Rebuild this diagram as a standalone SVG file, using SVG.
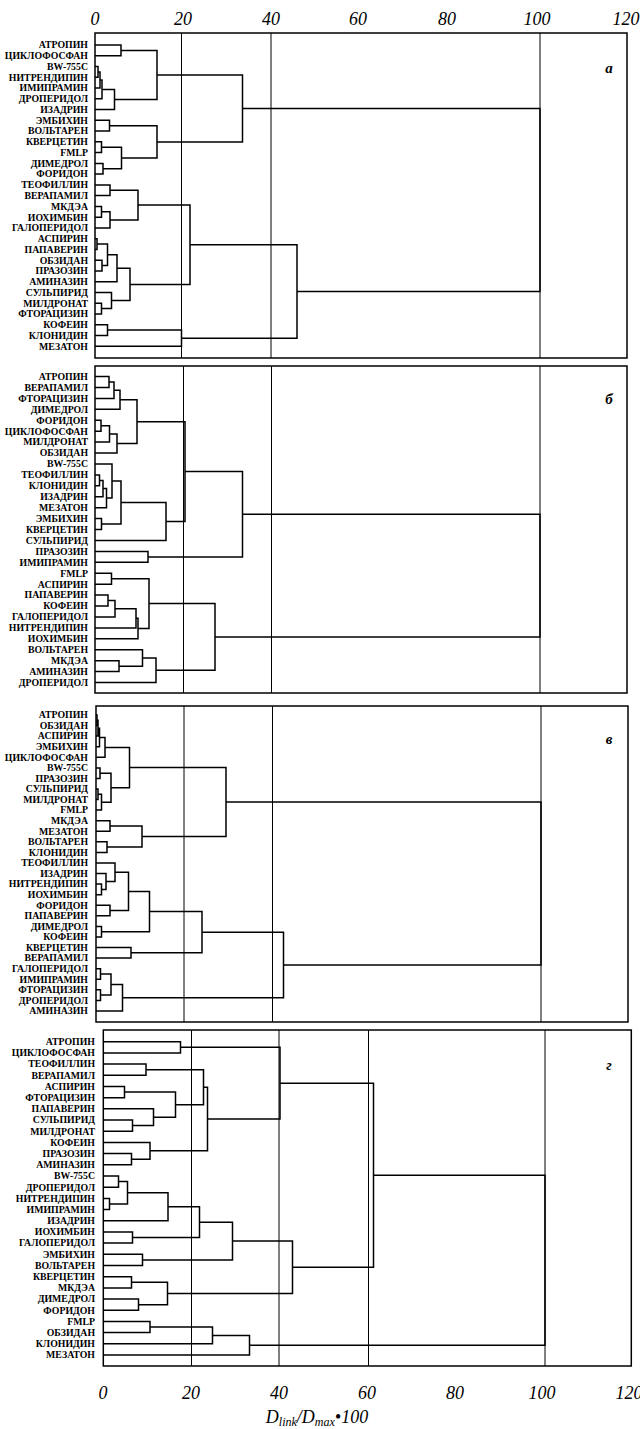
<svg xmlns="http://www.w3.org/2000/svg" width="640" height="1429" viewBox="0 0 640 1429">
<style>
.fr{fill:none;stroke:#000;stroke-width:1.5}
.gr{stroke:#000;stroke-width:1}
.d{fill:none;stroke:#000;stroke-width:1.5;stroke-linejoin:miter}
.lb{font-family:"Liberation Serif",serif;font-weight:bold;font-size:9.8px;text-anchor:end;fill:#000}
.ax{font-family:"Liberation Serif",serif;font-style:italic;font-size:18px;text-anchor:middle;fill:#000}
.pl{font-family:"Liberation Serif",serif;font-style:italic;font-weight:bold;font-size:15px;text-anchor:middle;fill:#000}
.tt{font-family:"Liberation Serif",serif;font-style:italic;font-size:18px;fill:#000}
</style>
<rect width="640" height="1429" fill="#fff"/>

<g id="axis-top">
<text class="ax" x="95" y="25">0</text>
<text class="ax" x="183" y="25">20</text>
<text class="ax" x="271" y="25">40</text>
<text class="ax" x="358" y="25">60</text>
<text class="ax" x="447" y="25">80</text>
<text class="ax" x="537" y="25">100</text>
<text class="ax" x="626" y="25">120</text>
</g>

<g id="axis-bottom">
<text class="ax" x="103" y="1399">0</text>
<text class="ax" x="191" y="1399">20</text>
<text class="ax" x="279" y="1399">40</text>
<text class="ax" x="367" y="1399">60</text>
<text class="ax" x="455" y="1399">80</text>
<text class="ax" x="542" y="1399">100</text>
<text class="ax" x="629" y="1399">120</text>
<text class="tt" x="317" y="1423" text-anchor="middle">D<tspan font-size="12" dy="3">link</tspan><tspan dy="-3">/D</tspan><tspan font-size="12" dy="3">max</tspan><tspan dy="-3">•100</tspan></text>
</g>

<!-- Panel а -->
<g id="panel-a">
<rect class="fr" x="95" y="33" width="532" height="325"/>
<line class="gr" x1="181.5" y1="33" x2="181.5" y2="358"/>
<line class="gr" x1="271" y1="33" x2="271" y2="358"/>
<line class="gr" x1="540" y1="33" x2="540" y2="358"/>
<text class="pl" x="609" y="73">а</text>
<g id="a-leaves">
<text class="lb" x="88" y="48.3">АТРОПИН</text>
<text class="lb" x="88" y="59.1">ЦИКЛОФОСФАН</text>
<text class="lb" x="88" y="69.8">BW-755C</text>
<text class="lb" x="88" y="80.6">НИТРЕНДИПИН</text>
<text class="lb" x="88" y="91.3">ИМИПРАМИН</text>
<text class="lb" x="88" y="102.1">ДРОПЕРИДОЛ</text>
<text class="lb" x="88" y="112.9">ИЗАДРИН</text>
<text class="lb" x="88" y="123.6">ЭМБИХИН</text>
<text class="lb" x="88" y="134.4">ВОЛЬТАРЕН</text>
<text class="lb" x="88" y="145.1">КВЕРЦЕТИН</text>
<text class="lb" x="88" y="155.9">FMLP</text>
<text class="lb" x="88" y="166.7">ДИМЕДРОЛ</text>
<text class="lb" x="88" y="177.4">ФОРИДОН</text>
<text class="lb" x="88" y="188.2">ТЕОФИЛЛИН</text>
<text class="lb" x="88" y="198.9">ВЕРАПАМИЛ</text>
<text class="lb" x="88" y="209.7">МКДЭА</text>
<text class="lb" x="88" y="220.5">ИОХИМБИН</text>
<text class="lb" x="88" y="231.2">ГАЛОПЕРИДОЛ</text>
<text class="lb" x="88" y="242">АСПИРИН</text>
<text class="lb" x="88" y="252.7">ПАПАВЕРИН</text>
<text class="lb" x="88" y="263.5">ОБЗИДАН</text>
<text class="lb" x="88" y="274.3">ПРАЗОЗИН</text>
<text class="lb" x="88" y="285">АМИНАЗИН</text>
<text class="lb" x="88" y="295.8">СУЛЬПИРИД</text>
<text class="lb" x="88" y="306.5">МИЛДРОНАТ</text>
<text class="lb" x="88" y="317.3">ФТОРАЦИЗИН</text>
<text class="lb" x="88" y="328.1">КОФЕИН</text>
<text class="lb" x="88" y="338.8">КЛОНИДИН</text>
<text class="lb" x="88" y="349.6">МЕЗАТОН</text>
</g>
</g>

<!-- Panel б -->
<g id="panel-b">
<rect class="fr" x="95" y="366" width="532" height="327"/>
<line class="gr" x1="183.5" y1="366" x2="183.5" y2="693"/>
<line class="gr" x1="271.5" y1="366" x2="271.5" y2="693"/>
<line class="gr" x1="540" y1="366" x2="540" y2="693"/>
<text class="pl" x="609" y="404">б</text>
<g id="b-leaves">
<text class="lb" x="88" y="379.8">АТРОПИН</text>
<text class="lb" x="88" y="390.7">ВЕРАПАМИЛ</text>
<text class="lb" x="88" y="401.7">ФТОРАЦИЗИН</text>
<text class="lb" x="88" y="412.6">ДИМЕДРОЛ</text>
<text class="lb" x="88" y="423.5">ФОРИДОН</text>
<text class="lb" x="88" y="434.5">ЦИКЛОФОСФАН</text>
<text class="lb" x="88" y="445.4">МИЛДРОНАТ</text>
<text class="lb" x="88" y="456.3">ОБЗИДАН</text>
<text class="lb" x="88" y="467.2">BW-755C</text>
<text class="lb" x="88" y="478.2">ТЕОФИЛЛИН</text>
<text class="lb" x="88" y="489.1">КЛОНИДИН</text>
<text class="lb" x="88" y="500">ИЗАДРИН</text>
<text class="lb" x="88" y="511">МЕЗАТОН</text>
<text class="lb" x="88" y="521.9">ЭМБИХИН</text>
<text class="lb" x="88" y="532.8">КВЕРЦЕТИН</text>
<text class="lb" x="88" y="543.8">СУЛЬПИРИД</text>
<text class="lb" x="88" y="554.7">ПРАЗОЗИН</text>
<text class="lb" x="88" y="565.6">ИМИПРАМИН</text>
<text class="lb" x="88" y="576.5">FMLP</text>
<text class="lb" x="88" y="587.5">АСПИРИН</text>
<text class="lb" x="88" y="598.4">ПАПАВЕРИН</text>
<text class="lb" x="88" y="609.3">КОФЕИН</text>
<text class="lb" x="88" y="620.3">ГАЛОПЕРИДОЛ</text>
<text class="lb" x="88" y="631.2">НИТРЕНДИПИН</text>
<text class="lb" x="88" y="642.1">ИОХИМБИН</text>
<text class="lb" x="88" y="653.1">ВОЛЬТАРЕН</text>
<text class="lb" x="88" y="664">МКДЭА</text>
<text class="lb" x="88" y="674.9">АМИНАЗИН</text>
<text class="lb" x="88" y="685.8">ДРОПЕРИДОЛ</text>
</g>
</g>

<!-- Panel в -->
<g id="panel-v">
<rect class="fr" x="96" y="706" width="532" height="316"/>
<line class="gr" x1="184" y1="706" x2="184" y2="1022"/>
<line class="gr" x1="272.5" y1="706" x2="272.5" y2="1022"/>
<line class="gr" x1="541" y1="706" x2="541" y2="1022"/>
<text class="pl" x="609" y="744">в</text>
<g id="v-leaves">
<text class="lb" x="88" y="718.3">АТРОПИН</text>
<text class="lb" x="88" y="728.9">ОБЗИДАН</text>
<text class="lb" x="88" y="739.4">АСПИРИН</text>
<text class="lb" x="88" y="750">ЭМБИХИН</text>
<text class="lb" x="88" y="760.6">ЦИКЛОФОСФАН</text>
<text class="lb" x="88" y="771.2">BW-755C</text>
<text class="lb" x="88" y="781.7">ПРАЗОЗИН</text>
<text class="lb" x="88" y="792.3">СУЛЬПИРИД</text>
<text class="lb" x="88" y="802.9">МИЛДРОНАТ</text>
<text class="lb" x="88" y="813.4">FMLP</text>
<text class="lb" x="88" y="824">МКДЭА</text>
<text class="lb" x="88" y="834.6">МЕЗАТОН</text>
<text class="lb" x="88" y="845.1">ВОЛЬТАРЕН</text>
<text class="lb" x="88" y="855.7">КЛОНИДИН</text>
<text class="lb" x="88" y="866.3">ТЕОФИЛЛИН</text>
<text class="lb" x="88" y="876.9">ИЗАДРИН</text>
<text class="lb" x="88" y="887.4">НИТРЕНДИПИН</text>
<text class="lb" x="88" y="898">ИОХИМБИН</text>
<text class="lb" x="88" y="908.6">ФОРИДОН</text>
<text class="lb" x="88" y="919.1">ПАПАВЕРИН</text>
<text class="lb" x="88" y="929.7">ДИМЕДРОЛ</text>
<text class="lb" x="88" y="940.3">КОФЕИН</text>
<text class="lb" x="88" y="950.8">КВЕРЦЕТИН</text>
<text class="lb" x="88" y="961.4">ВЕРАПАМИЛ</text>
<text class="lb" x="88" y="972">ГАЛОПЕРИДОЛ</text>
<text class="lb" x="88" y="982.6">ИМИПРАМИН</text>
<text class="lb" x="88" y="993.1">ФТОРАЦИЗИН</text>
<text class="lb" x="88" y="1003.7">ДРОПЕРИДОЛ</text>
<text class="lb" x="88" y="1014.3">АМИНАЗИН</text>
</g>
</g>

<!-- Panel г -->
<g id="panel-g">
<rect class="fr" x="103.3" y="1030" width="528" height="336"/>
<line class="gr" x1="191.5" y1="1030" x2="191.5" y2="1366"/>
<line class="gr" x1="279" y1="1030" x2="279" y2="1366"/>
<line class="gr" x1="368.5" y1="1030" x2="368.5" y2="1366"/>
<line class="gr" x1="545" y1="1030" x2="545" y2="1366"/>
<text class="pl" x="609" y="1070">г</text>
<g id="g-leaves">
<text class="lb" x="95" y="1045">АТРОПИН</text>
<text class="lb" x="95" y="1056.2">ЦИКЛОФОСФАН</text>
<text class="lb" x="95" y="1067.4">ТЕОФИЛЛИН</text>
<text class="lb" x="95" y="1078.6">ВЕРАПАМИЛ</text>
<text class="lb" x="95" y="1089.8">АСПИРИН</text>
<text class="lb" x="95" y="1101">ФТОРАЦИЗИН</text>
<text class="lb" x="95" y="1112.1">ПАПАВЕРИН</text>
<text class="lb" x="95" y="1123.3">СУЛЬПИРИД</text>
<text class="lb" x="95" y="1134.5">МИЛДРОНАТ</text>
<text class="lb" x="95" y="1145.7">КОФЕИН</text>
<text class="lb" x="95" y="1156.9">ПРАЗОЗИН</text>
<text class="lb" x="95" y="1168.1">АМИНАЗИН</text>
<text class="lb" x="95" y="1179.3">BW-755C</text>
<text class="lb" x="95" y="1190.5">ДРОПЕРИДОЛ</text>
<text class="lb" x="95" y="1201.7">НИТРЕНДИПИН</text>
<text class="lb" x="95" y="1212.9">ИМИПРАМИН</text>
<text class="lb" x="95" y="1224">ИЗАДРИН</text>
<text class="lb" x="95" y="1235.2">ИОХИМБИН</text>
<text class="lb" x="95" y="1246.4">ГАЛОПЕРИДОЛ</text>
<text class="lb" x="95" y="1257.6">ЭМБИХИН</text>
<text class="lb" x="95" y="1268.8">ВОЛЬТАРЕН</text>
<text class="lb" x="95" y="1280">КВЕРЦЕТИН</text>
<text class="lb" x="95" y="1291.2">МКДЭА</text>
<text class="lb" x="95" y="1302.4">ДИМЕДРОЛ</text>
<text class="lb" x="95" y="1313.6">ФОРИДОН</text>
<text class="lb" x="95" y="1324.8">FMLP</text>
<text class="lb" x="95" y="1335.9">ОБЗИДАН</text>
<text class="lb" x="95" y="1347.1">КЛОНИДИН</text>
<text class="lb" x="95" y="1358.3">МЕЗАТОН</text>
</g>
</g>

<g id="connectors">
<path class="d" d="M95 45 H121 V55.8 H95 M95 66.5 H98 V77.3 H95 M98 71.9 H100 V88 H95 M100 80 H102 V98.8 H95 M102 89.4 H114.5 V109.6 H95 M121 50.4 H157 V99.5 H114.5 M95 120.3 H109.5 V131.1 H95 M95 141.8 H101.5 V152.6 H95 M95 163.4 H103 V174.1 H95 M101.5 147.2 H121.5 V168.8 H103 M109.5 125.7 H157 V158 H121.5 M157 75 H242.5 V141.9 H157 M95 184.9 H110 V195.6 H95 M95 206.4 H101.5 V217.2 H95 M101.5 211.8 H110 V227.9 H95 M110 190.3 H138 V219.9 H110 M95 238.7 H97 V249.4 H95 M95 260.2 H102 V271 H95 M97 244.1 H107.5 V265.6 H102 M107.5 254.8 H117 V281.7 H95 M95 303.2 H101.5 V314 H95 M95 292.5 H111.5 V308.6 H101.5 M117 268.3 H130 V300.6 H111.5 M138 205.1 H190 V284.4 H130 M95 324.8 H107.5 V335.5 H95 M107.5 330.1 H181.5 V346.3 H95 M190 244.8 H297 V338.2 H181.5 M242.5 108.4 H540 V291.5 H297"/>
<path class="d" d="M95 376.5 H109 V387.4 H95 M109 382 H114 V398.4 H95 M114 390.2 H120 V409.3 H95 M95 420.2 H101 V431.2 H95 M101 425.7 H109.5 V442.1 H95 M109.5 433.9 H117 V453 H95 M120 399.8 H137 V443.5 H117 M95 474.9 H99.5 V485.8 H95 M99.5 480.4 H103 V496.7 H95 M103 488.5 H106.5 V507.7 H95 M95 463.9 H112 V498.1 H106.5 M95 518.6 H101.5 V529.5 H95 M112 481 H121 V524.1 H101.5 M121 502.5 H166 V540.5 H95 M137 421.7 H185 V521.5 H166 M95 551.4 H148 V562.3 H95 M185 471.6 H242.5 V556.9 H148 M95 573.2 H111.5 V584.2 H95 M95 595.1 H108 V606 H95 M108 600.6 H115 V617 H95 M115 608.8 H136 V627.9 H95 M136 618.3 H138 V638.8 H95 M111.5 578.7 H149 V628.6 H138 M95 660.7 H119 V671.6 H95 M95 649.8 H142.5 V666.2 H119 M142.5 658 H156 V682.5 H95 M149 603.6 H215 V670.2 H156 M242.5 514.2 H540 V636.9 H215"/>
<path class="d" d="M96 715 H97 V725.6 H96 M97 720.3 H98 V736.1 H96 M98 728.2 H99.5 V746.7 H96 M99.5 737.5 H105 V757.3 H96 M96 767.9 H100 V778.4 H96 M96 789 H98 V799.6 H96 M98 794.3 H101.5 V810.1 H96 M100 773.2 H111 V802.2 H101.5 M105 747.4 H129.5 V787.7 H111 M96 820.7 H110 V831.3 H96 M96 841.8 H107 V852.4 H96 M110 826 H142 V847.1 H107 M129.5 767.6 H226 V836.6 H142 M96 884.1 H101.5 V894.7 H96 M96 873.6 H106 V889.4 H101.5 M96 863 H115 V881.5 H106 M96 905.3 H110 V915.8 H96 M115 872.3 H128.5 V910.6 H110 M96 926.4 H101.5 V937 H96 M128.5 891.5 H149.5 V931.7 H101.5 M96 947.5 H131 V958.1 H96 M149.5 911.6 H202 V952.8 H131 M96 968.7 H100.5 V979.3 H96 M96 989.8 H100.5 V1000.4 H96 M100.5 974 H111 V995.1 H100.5 M111 984.6 H122.5 V1011 H96 M202 932.2 H283.5 V997.8 H122.5 M226 802.1 H541 V965 H283.5"/>
<path class="d" d="M103.3 1041.7 H180.5 V1052.9 H103.3 M103.3 1064.1 H146 V1075.3 H103.3 M103.3 1086.5 H124.5 V1097.7 H103.3 M103.3 1120 H132.5 V1131.2 H103.3 M103.3 1108.8 H153.5 V1125.6 H132.5 M124.5 1092.1 H175.5 V1117.2 H153.5 M146 1069.7 H203.5 V1104.7 H175.5 M103.3 1153.6 H131.5 V1164.8 H103.3 M103.3 1142.4 H150 V1159.2 H131.5 M203.5 1087.2 H207.5 V1150.8 H150 M180.5 1047.3 H280 V1119 H207.5 M103.3 1176 H118.5 V1187.2 H103.3 M103.3 1198.4 H109.5 V1209.6 H103.3 M118.5 1181.6 H127.5 V1204 H109.5 M127.5 1192.8 H168 V1220.7 H103.3 M103.3 1231.9 H132.5 V1243.1 H103.3 M168 1206.8 H199.5 V1237.5 H132.5 M103.3 1254.3 H142.5 V1265.5 H103.3 M199.5 1222.2 H232.5 V1259.9 H142.5 M103.3 1276.7 H131.5 V1287.9 H103.3 M103.3 1299.1 H138.5 V1310.3 H103.3 M131.5 1282.3 H167.5 V1304.7 H138.5 M232.5 1241.1 H292.5 V1293.5 H167.5 M280 1083.2 H373.5 V1267.3 H292.5 M103.3 1321.5 H150 V1332.6 H103.3 M150 1327.1 H212.5 V1343.8 H103.3 M212.5 1335.5 H249.5 V1355 H103.3 M373.5 1175.3 H545 V1345.2 H249.5"/>
</g>
</svg>
